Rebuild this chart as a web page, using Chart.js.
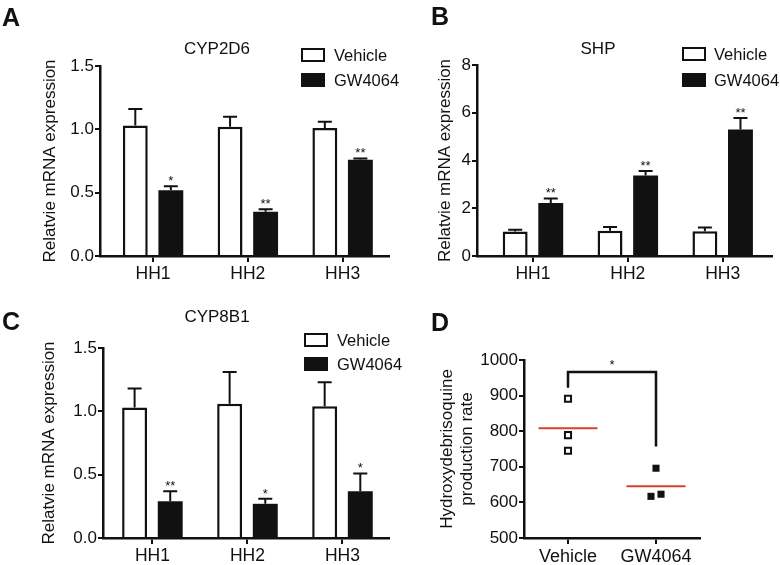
<!DOCTYPE html>
<html>
<head>
<meta charset="utf-8">
<script src="https://cdn.jsdelivr.net/npm/chart.js@4"></script>
<style>
  html, body { margin:0; padding:0; background:#fff; }
  #wrap { position:relative; width:780px; height:565px; background:#fff; overflow:hidden;
          font-family:"Liberation Sans", Arial, Helvetica, sans-serif; color:#111; }
  canvas { position:absolute; }
  .lbl { position:absolute; font-weight:bold; font-size:25px; line-height:1; }
  .ttl { position:absolute; font-size:17px; line-height:1; width:200px; text-align:center; }
  .lgbox { position:absolute; width:24px; height:14px; box-sizing:border-box; border:2.5px solid #111; }
  .lgtxt { position:absolute; font-size:16.5px; line-height:1; white-space:nowrap; }
</style>
</head>
<body>
<div id="wrap">
  <canvas id="cA" width="390" height="290" style="left:0;top:0"></canvas>
  <canvas id="cB" width="390" height="290" style="left:390px;top:0"></canvas>
  <canvas id="cC" width="390" height="275" style="left:0;top:290px"></canvas>
  <canvas id="cD" width="390" height="275" style="left:390px;top:290px"></canvas>

  <div class="lbl" style="left:2px;top:5px">A</div>
  <div class="lbl" style="left:431px;top:4px">B</div>
  <div class="lbl" style="left:2px;top:309px">C</div>
  <div class="lbl" style="left:431px;top:310px">D</div>

  <div class="ttl" style="left:117px;top:40px">CYP2D6</div>
  <div class="ttl" style="left:498px;top:40px">SHP</div>
  <div class="ttl" style="left:117px;top:308px">CYP8B1</div>

  <div id="legends"></div>
</div>
<script>
// ---------------- data ----------------
const categories = ['HH1', 'HH2', 'HH3'];
const seriesNames = ['Vehicle', 'GW4064'];

const cyp2d6Vehicle    = [1.03, 1.02, 1.01];
const cyp2d6VehicleErr = [0.13, 0.08, 0.05];
const cyp2d6GW         = [0.52, 0.35, 0.76];
const cyp2d6GWErr      = [0.03, 0.02, 0.01];
const cyp2d6Stars      = ['*', '**', '**'];
const cypTicks         = [0, 0.5, 1.0, 1.5];

const shpVehicle    = [1.03, 1.06, 1.04];
const shpVehicleErr = [0.07, 0.15, 0.15];
const shpGW         = [2.22, 3.37, 5.30];
const shpGWErr      = [0.19, 0.19, 0.48];
const shpStars      = ['**', '**', '**'];
const shpTicks      = [0, 2, 4, 6, 8];

const cyp8b1Vehicle    = [1.03, 1.06, 1.04];
const cyp8b1VehicleErr = [0.15, 0.25, 0.19];
const cyp8b1GW         = [0.29, 0.27, 0.37];
const cyp8b1GWErr      = [0.08, 0.04, 0.14];
const cyp8b1Stars      = ['**', '*', '*'];

const rateGroups  = ['Vehicle', 'GW4064'];
const rateVehicle = [891, 789, 745];
const rateGW      = [696, 617, 623];
const rateTicks   = [500, 600, 700, 800, 900, 1000];
const sigBracket  = [922, 966, 757];   // left foot, top, right foot
const sigLabel    = '*';

// ---------------- style ----------------
const FONT = '"Liberation Sans", Arial, Helvetica, sans-serif';
const INK = '#111';
const RED = '#d8412c';
Chart.defaults.font.family = FONT;
Chart.defaults.color = INK;

// legends (HTML)
function addLegend(left, textLeft, y1, y2) {
  const host = document.getElementById('legends');
  [[y1, '#fff', seriesNames[0]], [y2, INK, seriesNames[1]]].forEach(([cy, fill, name]) => {
    const b = document.createElement('div');
    b.className = 'lgbox';
    b.style.left = left + 'px'; b.style.top = (cy - 7) + 'px'; b.style.background = fill;
    host.appendChild(b);
    const t = document.createElement('div');
    t.className = 'lgtxt';
    t.style.left = textLeft + 'px'; t.style.top = (cy - 8.5) + 'px';
    t.textContent = name;
    host.appendChild(t);
  });
}
addLegend(301, 334, 55, 80);
addLegend(682, 714, 54, 80);
addLegend(304, 337, 340, 364);

// error bars + significance stars
const errorBarPlugin = {
  id: 'errorBars',
  afterDatasetsDraw(chart) {
    const ctx = chart.ctx, ys = chart.scales.y;
    chart.data.datasets.forEach((ds, di) => {
      const meta = chart.getDatasetMeta(di);
      meta.data.forEach((bar, i) => {
        const v = ds.data[i].y, e = ds.errors[i];
        const yTop = ys.getPixelForValue(v + e);
        ctx.save();
        ctx.strokeStyle = INK; ctx.lineWidth = 2;
        ctx.beginPath();
        ctx.moveTo(bar.x, bar.y); ctx.lineTo(bar.x, yTop);
        ctx.moveTo(bar.x - 7, yTop); ctx.lineTo(bar.x + 7, yTop);
        ctx.stroke();
        if (ds.stars && ds.stars[i]) {
          ctx.fillStyle = INK; ctx.font = '13px ' + FONT;
          ctx.textAlign = 'center'; ctx.textBaseline = 'alphabetic';
          ctx.fillText(ds.stars[i], bar.x, yTop - 1);
        }
        ctx.restore();
      });
    });
  }
};

function axisCommon(extra) {
  return Object.assign({
    border: { display: true, color: INK, width: 2.5 },
    grid: { display: true, drawOnChartArea: false, drawTicks: true, tickLength: 5, color: INK, lineWidth: 2, offset: false },
  }, extra);
}

// category positions 1..n on a linear axis, labelled with the names
function namedTicks(names) {
  return s => { s.ticks = names.map((n, i) => ({ value: i + 1 })); };
}

function barPanel(id, cfg) {
  const toPts = arr => arr.map((v, i) => ({ x: i + 1, y: v }));
  const t = cfg.ticks;
  new Chart(document.getElementById(id), {
    type: 'bar',
    data: {
      datasets: [
        { label: seriesNames[0], data: toPts(cfg.veh), errors: cfg.vehErr, stars: null,
          backgroundColor: '#fff', borderColor: INK, borderWidth: 2.5,
          categoryPercentage: 0.75, barPercentage: 0.70 },
        { label: seriesNames[1], data: toPts(cfg.gw), errors: cfg.gwErr, stars: cfg.stars,
          backgroundColor: INK, borderColor: INK, borderWidth: 0,
          categoryPercentage: 0.75, barPercentage: 0.70 }
      ]
    },
    options: {
      responsive: false, animation: false, devicePixelRatio: 1,
      layout: { padding: { top: cfg.top, right: cfg.right, bottom: 0, left: 0 } },
      plugins: { legend: { display: false }, tooltip: { enabled: false } },
      scales: {
        x: axisCommon({
          type: 'linear', offset: false, min: cfg.xmin, max: cfg.xmax,
          grid: { display: true, drawOnChartArea: false, drawTicks: true, tickLength: 6, color: INK, lineWidth: 2, offset: false },
          ticks: { autoSkip: false, maxRotation: 0, padding: 2, color: INK,
                   font: { size: 17.5 }, callback: v => categories[Math.round(v) - 1] },
          afterBuildTicks: namedTicks(categories),
          afterFit: s => { s.height = cfg.xh; }
        }),
        y: axisCommon({
          min: t[0], max: t[t.length - 1],
          ticks: { stepSize: t[1] - t[0], padding: 1, color: INK, font: { size: 17 },
                   callback: v => cfg.dec ? Number(v).toFixed(1) : String(v) },
          title: { display: true, text: 'Relatvie mRNA expression', color: INK,
                   font: { size: 17 }, padding: { top: cfg.titlePad, bottom: 0 } },
          afterFit: s => { s.width = cfg.yw; }
        })
      }
    },
    plugins: [errorBarPlugin]
  });
}

barPanel('cA', { veh: cyp2d6Vehicle, vehErr: cyp2d6VehicleErr, gw: cyp2d6GW, gwErr: cyp2d6GWErr,
  stars: cyp2d6Stars, ticks: cypTicks, dec: true, top: 66, right: 0, yw: 100, xh: 34,
  xmin: 0.44, xmax: 3.5, titlePad: 40 });
barPanel('cB', { veh: shpVehicle, vehErr: shpVehicleErr, gw: shpGW, gwErr: shpGWErr,
  stars: shpStars, ticks: shpTicks, dec: false, top: 65, right: 8, yw: 87, xh: 34,
  xmin: 0.41, xmax: 3.52, titlePad: 45 });
barPanel('cC', { veh: cyp8b1Vehicle, vehErr: cyp8b1VehicleErr, gw: cyp8b1GW, gwErr: cyp8b1GWErr,
  stars: cyp8b1Stars, ticks: cypTicks, dec: true, top: 58, right: 0, yw: 103, xh: 27,
  xmin: 0.48, xmax: 3.5, titlePad: 39 });

// ---------------- panel D ----------------
function spread(values, groupX) {
  // side-by-side placement of points whose values would overlap
  return values.map((v, i) => {
    const cluster = values.map((w, j) => ({ w, j })).filter(o => Math.abs(o.w - v) < 25)
      .sort((a, b) => a.w - b.w);
    if (cluster.length < 2) return { x: groupX, y: v };
    const rank = cluster.findIndex(o => o.j === i);
    return { x: groupX + (rank - (cluster.length - 1) / 2) * 0.114, y: v };
  });
}

const meanLinePlugin = {
  id: 'meanLines',
  afterDatasetsDraw(chart) {
    const ctx = chart.ctx, xs = chart.scales.x, ys = chart.scales.y;
    chart.data.datasets.forEach((ds, di) => {
      const vals = ds.data.map(p => p.y);
      const mean = vals.reduce((a, b) => a + b, 0) / vals.length;
      const gx = di + 1, py = ys.getPixelForValue(mean);
      ctx.save();
      ctx.strokeStyle = RED; ctx.lineWidth = 2;
      ctx.beginPath();
      ctx.moveTo(xs.getPixelForValue(gx - 0.335), py);
      ctx.lineTo(xs.getPixelForValue(gx + 0.335), py);
      ctx.stroke();
      ctx.restore();
    });
    // significance bracket
    const x1 = xs.getPixelForValue(1), x2 = xs.getPixelForValue(2);
    const yl = ys.getPixelForValue(sigBracket[0]), yt = ys.getPixelForValue(sigBracket[1]),
          yr = ys.getPixelForValue(sigBracket[2]);
    ctx.save();
    ctx.strokeStyle = INK; ctx.lineWidth = 2.5; ctx.lineJoin = 'miter';
    ctx.beginPath();
    ctx.moveTo(x1, yl); ctx.lineTo(x1, yt); ctx.lineTo(x2, yt); ctx.lineTo(x2, yr);
    ctx.stroke();
    ctx.fillStyle = INK; ctx.font = '13px ' + FONT;
    ctx.textAlign = 'center'; ctx.textBaseline = 'alphabetic';
    ctx.fillText(sigLabel, (x1 + x2) / 2, yt - 3);
    ctx.restore();
  }
};

new Chart(document.getElementById('cD'), {
  type: 'scatter',
  data: {
    datasets: [
      { label: rateGroups[0], data: spread(rateVehicle, 1), pointStyle: 'rect',
        pointRadius: 4.3, backgroundColor: '#fff', borderColor: INK, borderWidth: 2 },
      { label: rateGroups[1], data: spread(rateGW, 2), pointStyle: 'rect',
        pointRadius: 5, backgroundColor: INK, borderColor: INK, borderWidth: 0 }
    ]
  },
  options: {
    responsive: false, animation: false, devicePixelRatio: 1,
    layout: { padding: { top: 70, right: 80, bottom: 0, left: 0 } },
    plugins: { legend: { display: false }, tooltip: { enabled: false } },
    scales: {
      x: axisCommon({
        type: 'linear', min: 0.5, max: 2.5, offset: false,
        grid: { display: true, drawOnChartArea: false, drawTicks: true, tickLength: 6, color: INK, lineWidth: 2, offset: false },
        ticks: { autoSkip: false, maxRotation: 0, padding: 2, color: INK,
                 font: { size: 18 }, callback: v => rateGroups[Math.round(v) - 1] },
        afterBuildTicks: namedTicks(rateGroups),
        afterFit: s => { s.height = 27; }
      }),
      y: axisCommon({
        min: rateTicks[0], max: rateTicks[rateTicks.length - 1],
        ticks: { stepSize: rateTicks[1] - rateTicks[0], padding: 1, color: INK, font: { size: 17 },
                 callback: v => String(v) },
        title: { display: true, text: ['Hydroxydebrisoquine', 'production rate'], color: INK,
                 font: { size: 17 }, padding: { top: 47, bottom: 0 } },
        afterFit: s => { s.width = 134; }
      })
    }
  },
  plugins: [meanLinePlugin]
});
</script>
</body>
</html>
